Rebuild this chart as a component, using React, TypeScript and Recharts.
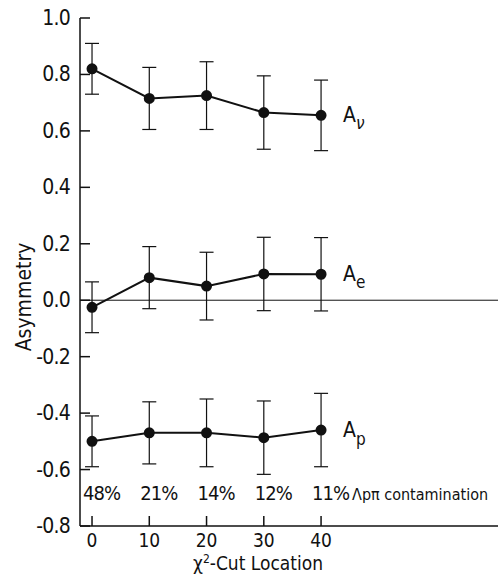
import { ComposedChart, Line, XAxis, YAxis, ErrorBar, ReferenceLine, LabelList, Label } from "recharts";

const cuts = [0, 10, 20, 30, 40];
const contamination = ["48%", "21%", "14%", "12%", "11%"];
const aNu = [0.82, 0.715, 0.725, 0.665, 0.655];
const aNuErr = [0.09, 0.11, 0.12, 0.13, 0.125];
const aE = [-0.025, 0.08, 0.05, 0.093, 0.092];
const aEErr = [0.09, 0.11, 0.12, 0.13, 0.13];
const aP = [-0.5, -0.47, -0.47, -0.487, -0.46];
const aPErr = [0.09, 0.11, 0.12, 0.13, 0.13];
const yTicks = [-0.8, -0.6, -0.4, -0.2, 0, 0.2, 0.4, 0.6, 0.8, 1.0];

const build = (ys: number[], errs: number[]) => cuts.map((x, i) => ({ x, y: ys[i], err: errs[i] }));
const nuData = build(aNu, aNuErr);
const eData = build(aE, aEErr);
const pData = build(aP, aPErr);

const ink = "#111";
const font = "'DejaVu Sans Condensed', 'DejaVu Sans', sans-serif";

const LeftTick = ({ x, y, payload }: any) => (
  <g>
    <line x1={x + 10} x2={x + 20} y1={y} y2={y} stroke={ink} strokeWidth={1.5} />
    <text x={x} y={y + 7} textAnchor="end" fontSize={21} letterSpacing={-0.8} fontFamily={font} fill={ink}>
      {Number(payload.value).toFixed(1)}
    </text>
  </g>
);

const RightTick = ({ x, y }: any) => (
  <line x1={x - 10} x2={x} y1={y} y2={y} stroke={ink} strokeWidth={1.5} />
);

const TopTick = ({ x, y }: any) => (
  <line x1={x} x2={x} y1={y} y2={y + 10} stroke={ink} strokeWidth={1.5} />
);

const BottomTick = ({ x, y, payload, index }: any) => (
  <g>
    <line x1={x} x2={x} y1={y} y2={y - 10} stroke={ink} strokeWidth={1.5} />
    <text x={x} y={y + 21} textAnchor="middle" fontSize={19} fontFamily={font} fill={ink}>
      {payload.value}
    </text>
    <text x={x - 9} y={y - 26} fontSize={20} letterSpacing={-1} fontFamily={font} fill={ink}>
      {contamination[index]}
    </text>
    {index === cuts.length - 1 && (
      <text x={x + 31} y={y - 26} fontSize={16} fontFamily={font} fill={ink}>
        Λpπ contamination
      </text>
    )}
  </g>
);

const seriesLabel = (sub: string, subDy: number) => (props: any) => {
  if (props.index !== cuts.length - 1) return null;
  return (
    <text x={props.x + 22} y={props.y + 7} fontSize={21} fontFamily={font} fill={ink}>
      A
      <tspan dy={subDy} fontSize={17} fontStyle={sub === "ν" ? "italic" : "normal"}>{sub}</tspan>
    </text>
  );
};

export default function App() {
  return (
    <div style={{ position: "absolute", left: 0, top: 0, width: 498, height: 575, overflow: "hidden", background: "#fff" }}>
      <ComposedChart width={504} height={575} margin={{ top: 18, right: 0, left: 0, bottom: 0 }}>
        <XAxis
          xAxisId="top" orientation="top" dataKey="x" type="number" domain={[-2.1, 71.6]}
          ticks={cuts} height={0} tickSize={0} tickMargin={0} tick={<TopTick />}
          axisLine={{ stroke: ink, strokeWidth: 1.5 }} tickLine={false}
        />
        <XAxis
          dataKey="x" type="number" domain={[-2.1, 71.6]} ticks={cuts} height={49}
          tickSize={0} tickMargin={0} tick={<BottomTick />} tickLine={false}
          axisLine={{ stroke: ink, strokeWidth: 1.5 }}
        >
          <Label
            content={() => (
              <text x={193} y={570} fontSize={19} fontFamily={font} fill={ink}>
                χ<tspan dy={-7} fontSize={12}>2</tspan><tspan dy={7}>-Cut Location</tspan>
              </text>
            )}
          />
        </XAxis>
        <YAxis
          domain={[-0.8, 1.0]} ticks={yTicks} width={80} tickSize={0} tickMargin={10}
          tick={<LeftTick />} tickLine={false} axisLine={{ stroke: ink, strokeWidth: 1.5 }}
        >
          <Label
            content={() => (
              <text x={31} y={297} transform="rotate(-90, 31, 297)" textAnchor="middle" fontSize={21} fontFamily={font} fill={ink}>
                Asymmetry
              </text>
            )}
          />
        </YAxis>
        <YAxis
          yAxisId="right" orientation="right" domain={[-0.8, 1.0]} ticks={yTicks} width={2}
          tickSize={0} tickMargin={0} tick={<RightTick />} tickLine={false} axisLine={false}
        />
        <ReferenceLine y={0} stroke={ink} strokeWidth={1} />
        <Line data={nuData} dataKey="y" stroke={ink} strokeWidth={2} isAnimationActive={false}
          dot={{ r: 4.5, fill: ink, stroke: ink }}>
          <ErrorBar dataKey="err" width={7} stroke={ink} strokeWidth={1.2} />
          <LabelList content={seriesLabel("ν", 7)} />
        </Line>
        <Line data={eData} dataKey="y" stroke={ink} strokeWidth={2} isAnimationActive={false}
          dot={{ r: 4.5, fill: ink, stroke: ink }}>
          <ErrorBar dataKey="err" width={7} stroke={ink} strokeWidth={1.2} />
          <LabelList content={seriesLabel("e", 7)} />
        </Line>
        <Line data={pData} dataKey="y" stroke={ink} strokeWidth={2} isAnimationActive={false}
          dot={{ r: 4.5, fill: ink, stroke: ink }}>
          <ErrorBar dataKey="err" width={7} stroke={ink} strokeWidth={1.2} />
          <LabelList content={seriesLabel("p", 8)} />
        </Line>
      </ComposedChart>
    </div>
  );
}
